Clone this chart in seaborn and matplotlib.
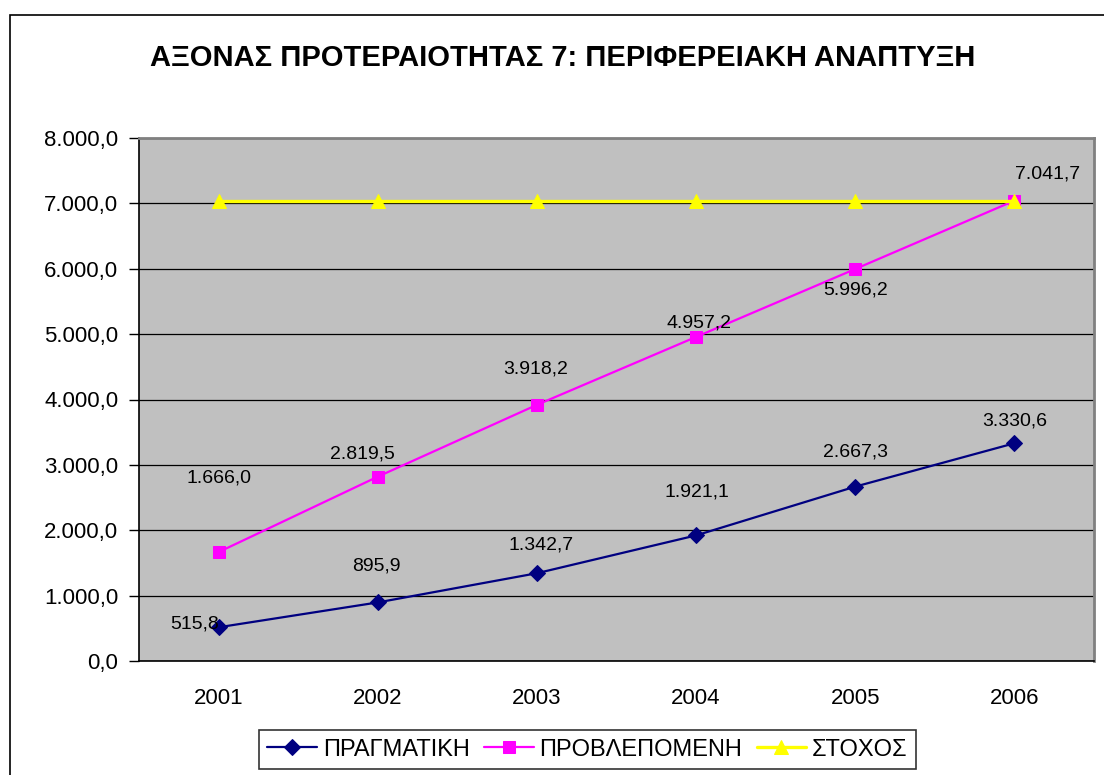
import matplotlib
matplotlib.use("Agg")
import matplotlib.pyplot as plt
import seaborn as sns
import pandas as pd
from matplotlib.ticker import FuncFormatter, MultipleLocator
from matplotlib.patches import Rectangle

# Data
ETOS = [2001, 2002, 2003, 2004, 2005, 2006]
PRAGMATIKH = [515.8, 895.9, 1342.7, 1921.1, 2667.3, 3330.6]
PROBLEPOMENH = [1666.0, 2819.5, 3918.2, 4957.2, 5996.2, 7041.7]
STOXOS = [7041.7, 7041.7, 7041.7, 7041.7, 7041.7, 7041.7]
SEIRES = ["ΠΡΑΓΜΑΤΙΚΗ", "ΠΡΟΒΛΕΠΟΜΕΝΗ", "ΣΤΟΧΟΣ"]
TITLOS = "ΑΞΟΝΑΣ ΠΡΟΤΕΡΑΙΟΤΗΤΑΣ 7: ΠΕΡΙΦΕΡΕΙΑΚΗ ΑΝΑΠΤΥΞΗ"

# label offsets in pixels (dx, dy) relative to each point
OFF_PRAG = [(-24, 3), (-1, 36), (4, 28), (1, 43), (0, 35), (0, 22)]
OFF_PROB = [(0, 74), (-15, 23), (-1, 36), (3, 14), (0, -21), (33, 27)]

sns.set_theme(style="white")
plt.rcParams["font.family"] = ["Liberation Sans", "DejaVu Sans"]
plt.rcParams["text.color"] = "black"
plt.rcParams["xtick.color"] = "black"
plt.rcParams["ytick.color"] = "black"

df = pd.DataFrame({
    "etos": ETOS * 3,
    "timi": PRAGMATIKH + PROBLEPOMENH + STOXOS,
    "seira": [SEIRES[0]] * 6 + [SEIRES[1]] * 6 + [SEIRES[2]] * 6,
})

xromata = {SEIRES[0]: "#000080", SEIRES[1]: "#FF00FF", SEIRES[2]: "#FFFF00"}
markers = {SEIRES[0]: "D", SEIRES[1]: "s", SEIRES[2]: "^"}
megethos = {SEIRES[0]: 8, SEIRES[1]: 8, SEIRES[2]: 9.5}
platos = {SEIRES[0]: 1.6, SEIRES[1]: 1.6, SEIRES[2]: 2.4}

fig = plt.figure(figsize=(11.04, 7.75), dpi=100)
ax = fig.add_axes([139 / 1104, 114 / 775, 955 / 1104, 523 / 775])
ax.set_facecolor("#C0C0C0")

for s in SEIRES:
    d = df[df["seira"] == s]
    sns.lineplot(data=d, x="etos", y="timi", ax=ax, color=xromata[s],
                 marker=markers[s], markersize=megethos[s],
                 markeredgecolor=xromata[s], linewidth=platos[s], label=s,
                 zorder=3)

ax.set_xlim(2000.5, 2006.5)
ax.set_ylim(0, 8000)
ax.yaxis.set_major_locator(MultipleLocator(1000))
ax.grid(axis="y", color="black", linewidth=0.9)
ax.set_axisbelow(True)


def fmt_gr(v, pos=None):
    s = f"{v:,.1f}"
    return s.replace(",", "X").replace(".", ",").replace("X", ".")


ax.yaxis.set_major_formatter(FuncFormatter(fmt_gr))
ax.set_xticks(ETOS)
ax.set_xticks([e + 0.5 for e in ETOS[:-1]], minor=True)
ax.tick_params(axis="x", which="major", length=0, pad=19.5, labelsize=16)
ax.tick_params(axis="x", which="minor", length=7, width=1, color="black",
               direction="out")
ax.tick_params(axis="y", length=7, width=1, color="black", direction="out",
               labelsize=16, pad=8, left=True)
ax.set_xlabel("")
ax.set_ylabel("")

for sp in ["left", "bottom"]:
    ax.spines[sp].set_color("black")
    ax.spines[sp].set_linewidth(1.2)
for sp in ["top", "right"]:
    ax.spines[sp].set_color("#808080")
    ax.spines[sp].set_linewidth(2)

for vals, offs in [(PRAGMATIKH, OFF_PRAG), (PROBLEPOMENH, OFF_PROB)]:
    for x, y, (dx, dy) in zip(ETOS, vals, offs):
        ax.annotate(fmt_gr(y), (x, y), xytext=(dx * 0.72, dy * 0.72),
                    textcoords="offset points", ha="center", va="center",
                    fontsize=14, color="black", zorder=4)

fig.text(563 / 1104, 1 - 58 / 775, TITLOS, ha="center", va="center",
         fontsize=21, fontweight="bold")

leg = ax.legend(loc="center", bbox_to_anchor=(587.5 / 1104, 1 - 749.5 / 775),
                bbox_transform=fig.transFigure, ncol=3, frameon=True,
                fancybox=False, edgecolor="black", fontsize=17,
                handlelength=2.1, handletextpad=0.25, columnspacing=0.6,
                borderpad=0.35)
leg.get_frame().set_linewidth(1.2)

# outer chart border
fig.patches.append(Rectangle((10 / 1104, -0.1), 1.2, 1.1 - 15 / 775,
                             transform=fig.transFigure, fill=False,
                             edgecolor="black", linewidth=1.2))

fig.savefig("out.png", dpi=100)
